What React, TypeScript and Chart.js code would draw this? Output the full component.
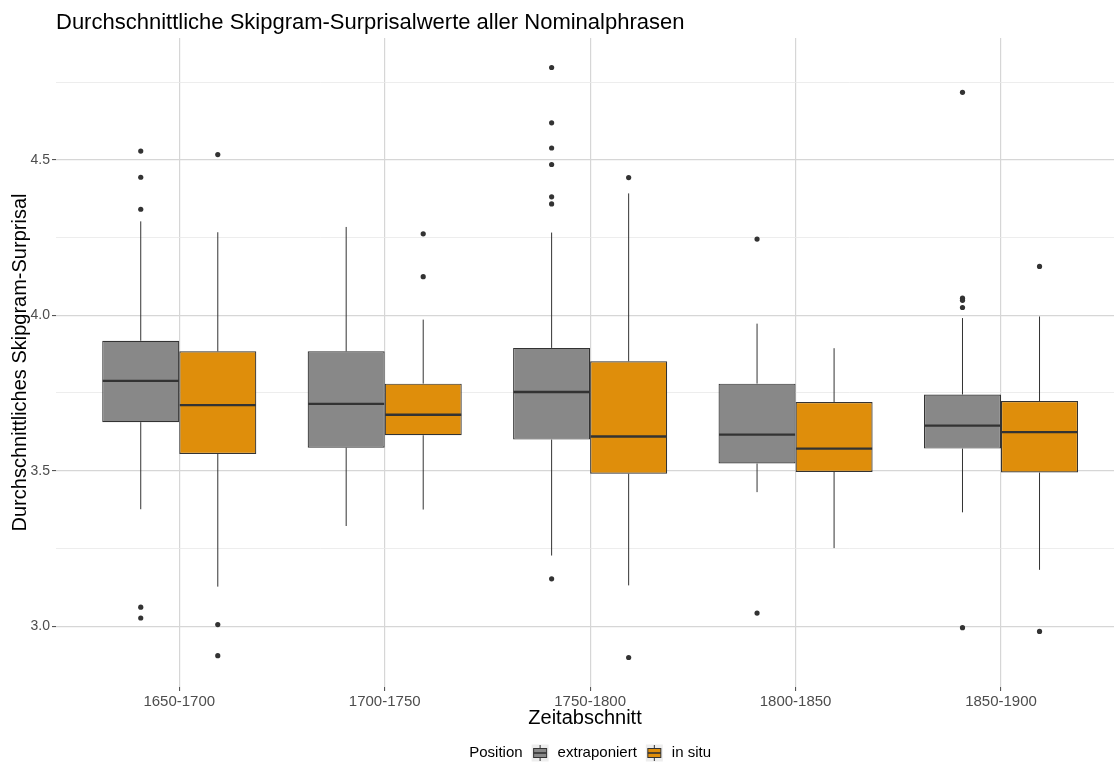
import React, { useEffect, useRef } from 'react';
import { Chart, registerables } from 'chart.js';

Chart.register(...registerables);

const FONT = '"Liberation Sans", Arial, Helvetica, sans-serif';

const titleText = 'Durchschnittliche Skipgram-Surprisalwerte aller Nominalphrasen';
const xTitle = 'Zeitabschnitt';
const yTitle = 'Durchschnittliches Skipgram-Surprisal';
const legendTitle = 'Position';

const categories = ['1650-1700', '1700-1750', '1750-1800', '1800-1850', '1850-1900'];
const seriesNames = ['extraponiert', 'in situ'];
const seriesColors = ['#888888', '#DF8E0B'];

// extraponiert
const extLow = [3.376, 3.322, 3.227, 3.431, 3.366];
const extQ1 = [3.656, 3.574, 3.600, 3.523, 3.571];
const extMedian = [3.789, 3.715, 3.753, 3.616, 3.645];
const extQ3 = [3.918, 3.884, 3.895, 3.780, 3.745];
const extHigh = [4.302, 4.284, 4.266, 3.973, 3.991];
const extOutliers = [
  [4.528, 4.444, 4.341, 3.061, 3.026],
  [],
  [4.797, 4.619, 4.538, 4.485, 4.381, 4.358, 3.152],
  [4.245, 3.042],
  [4.717, 4.055, 4.048, 4.025, 2.995],
];

// in situ
const insLow = [3.127, 3.375, 3.131, 3.251, 3.181];
const insQ1 = [3.554, 3.614, 3.490, 3.496, 3.494];
const insMedian = [3.711, 3.680, 3.610, 3.571, 3.624];
const insQ3 = [3.884, 3.780, 3.852, 3.721, 3.724];
const insHigh = [4.267, 3.986, 4.392, 3.894, 3.996];
const insOutliers = [
  [4.517, 3.005, 2.905],
  [4.262, 4.124],
  [4.443, 2.899],
  [],
  [4.157, 2.983],
];

const yMajorTicks = [3.0, 3.5, 4.0, 4.5];
const yMajorLabels = ['3.0', '3.5', '4.0', '4.5'];
const yMinorTicks = [3.25, 3.75, 4.25, 4.75];

const dodgeWidth = 0.75;

const stats = [
  { low: extLow, q1: extQ1, med: extMedian, q3: extQ3, high: extHigh, out: extOutliers },
  { low: insLow, q1: insQ1, med: insMedian, q3: insQ3, high: insHigh, out: insOutliers },
];

const allVals = stats.flatMap((s) => [...s.low, ...s.high, ...s.out.flat()]);
const dMin = Math.min(...allVals);
const dMax = Math.max(...allVals);
const yMin = dMin - 0.05 * (dMax - dMin);
const yMax = dMax + 0.05 * (dMax - dMin);
const xMin = 0.4;
const xMax = categories.length + 0.55;

const boxPartsPlugin = {
  id: 'boxParts',
  beforeDatasetsDraw(chart: any) {
    const ctx = chart.ctx;
    const y = chart.scales.y;
    ctx.save();
    ctx.strokeStyle = '#333333';
    ctx.lineWidth = 1;
    stats.forEach((s, di) => {
      const meta = chart.getDatasetMeta(di);
      meta.data.forEach((el: any, i: number) => {
        const { x } = el.getProps(['x'], true);
        ctx.beginPath();
        ctx.moveTo(x, y.getPixelForValue(s.q3[i]));
        ctx.lineTo(x, y.getPixelForValue(s.high[i]));
        ctx.moveTo(x, y.getPixelForValue(s.q1[i]));
        ctx.lineTo(x, y.getPixelForValue(s.low[i]));
        ctx.stroke();
      });
    });
    ctx.restore();
  },
  afterDatasetsDraw(chart: any) {
    const ctx = chart.ctx;
    const y = chart.scales.y;
    ctx.save();
    ctx.strokeStyle = '#333333';
    ctx.lineWidth = 2.4;
    stats.forEach((s, di) => {
      const meta = chart.getDatasetMeta(di);
      meta.data.forEach((el: any, i: number) => {
        const { x, width } = el.getProps(['x', 'width'], true);
        const py = y.getPixelForValue(s.med[i]);
        ctx.beginPath();
        ctx.moveTo(x - width / 2 + 0.5, py);
        ctx.lineTo(x + width / 2 - 0.5, py);
        ctx.stroke();
      });
    });
    ctx.restore();
  },
};

const legendPlugin = {
  id: 'ggLegend',
  afterDraw(chart: any) {
    const ctx = chart.ctx;
    ctx.save();
    ctx.font = `15px ${FONT}`;
    ctx.textBaseline = 'middle';
    ctx.fillStyle = '#000000';
    const key = 17;
    const gap = 9;
    const wT = ctx.measureText(legendTitle).width;
    const wL = seriesNames.map((n) => ctx.measureText(n).width);
    const total = wT + gap + seriesNames.length * (key + gap) + wL.reduce((a, b) => a + b, 0) + gap * (seriesNames.length - 1);
    const panelRight = chart.scales.x.getPixelForValue(categories.length + 0.6);
    const cx = (chart.chartArea.left + panelRight) / 2;
    const cy = 753;
    let x = cx - total / 2;
    ctx.textAlign = 'left';
    ctx.fillText(legendTitle, x, cy);
    x += wT + gap;
    seriesNames.forEach((n, i) => {
      const ky = cy - key / 2;
      ctx.fillStyle = '#EDEDED';
      ctx.fillRect(x, ky, key, key);
      ctx.strokeStyle = '#333333';
      ctx.lineWidth = 1;
      ctx.beginPath();
      ctx.moveTo(x + key / 2, ky + 0.5);
      ctx.lineTo(x + key / 2, ky + key - 0.5);
      ctx.stroke();
      ctx.fillStyle = seriesColors[i];
      ctx.fillRect(x + 2, ky + 4, key - 4, 9);
      ctx.strokeRect(x + 2, ky + 4, key - 4, 9);
      ctx.lineWidth = 1.6;
      ctx.beginPath();
      ctx.moveTo(x + 2, cy);
      ctx.lineTo(x + key - 2, cy);
      ctx.stroke();
      x += key + gap;
      ctx.fillStyle = '#000000';
      ctx.fillText(n, x, cy);
      x += wL[i] + gap;
    });
    ctx.restore();
  },
};

export default function App() {
  const canvasRef = useRef<HTMLCanvasElement | null>(null);

  useEffect(() => {
    if (!canvasRef.current) return;
    Chart.defaults.font.family = FONT;

    const barDatasets = stats.map((s, di) => ({
      type: 'bar' as const,
      label: seriesNames[di],
      data: categories.map((_, i) => ({ x: i + 1, y: [s.q1[i], s.q3[i]] })),
      backgroundColor: seriesColors[di],
      borderColor: '#333333',
      borderWidth: 1.2,
      borderSkipped: false,
      categoryPercentage: dodgeWidth,
      barPercentage: 1,
      order: 2,
    }));

    const outlierDatasets = stats.map((s, di) => ({
      type: 'scatter' as const,
      label: seriesNames[di] + ' outliers',
      data: s.out.flatMap((vals, i) =>
        vals.map((v) => ({ x: i + 1 + (di - 0.5) * (dodgeWidth / 2), y: v }))
      ),
      backgroundColor: '#333333',
      borderWidth: 0,
      pointRadius: 2.6,
      order: 1,
    }));

    const chart = new Chart(canvasRef.current, {
      type: 'bar',
      data: { datasets: [...barDatasets, ...outlierDatasets] as any },
      plugins: [boxPartsPlugin, legendPlugin],
      options: {
        animation: false,
        responsive: false,
        devicePixelRatio: 1,
        events: [],
        layout: { autoPadding: false, padding: { left: 0, right: 0, top: 0, bottom: 31.3 } },
        plugins: {
          legend: { display: false },
          tooltip: { enabled: false },
          title: {
            display: true,
            text: titleText,
            align: 'start',
            fullSize: false,
            color: '#000000',
            font: { size: 22, weight: 'normal', family: FONT, lineHeight: 1.2 },
            padding: { top: 9.5, bottom: 2.1 },
          },
        },
        scales: {
          x: {
            type: 'linear',
            min: xMin,
            max: xMax,
            offset: false,
            grid: {
              offset: false,
              color: '#D6D6D6',
              lineWidth: 1.2,
              drawTicks: true,
              tickLength: 4,
              tickColor: '#444444',
              tickWidth: 1,
            },
            border: { display: false },
            afterBuildTicks: (scale: any) => {
              scale.ticks = categories.map((_, i) => ({ value: i + 1 }));
            },
            afterFit: (scale: any) => {
              scale.height = 43.7;
            },
            ticks: {
              autoSkip: false,
              maxRotation: 0,
              padding: 1.5,
              color: '#4D4D4D',
              font: { size: 15, family: FONT },
              callback: (_v: any, index: number) => categories[index],
            },
            title: {
              display: true,
              text: xTitle,
              color: '#000000',
              font: { size: 20, family: FONT, lineHeight: 1.2 },
              padding: { top: 0, bottom: 0 },
            },
          },
          y: {
            type: 'linear',
            min: yMin,
            max: yMax,
            beginAtZero: false,
            grid: {
              color: (c: any) => (yMajorTicks.includes(c.tick?.value) ? '#D6D6D6' : '#E9E9E9'),
              lineWidth: (c: any) => (yMajorTicks.includes(c.tick?.value) ? 1.2 : 0.8),
              drawTicks: true,
              tickLength: 4,
              tickColor: (c: any) => (yMajorTicks.includes(c.tick?.value) ? '#444444' : 'rgba(0,0,0,0)'),
              tickWidth: 1,
            },
            border: { display: false },
            afterBuildTicks: (scale: any) => {
              scale.ticks = [...yMajorTicks, ...yMinorTicks]
                .sort((a, b) => a - b)
                .map((v) => ({ value: v }));
            },
            afterFit: (scale: any) => {
              scale.width = 56;
            },
            ticks: {
              autoSkip: false,
              padding: 2,
              color: '#4D4D4D',
              font: { size: 14, family: FONT },
              callback: (v: any) => {
                const k = yMajorTicks.indexOf(Number(v));
                return k >= 0 ? yMajorLabels[k] : '';
              },
            },
            title: {
              display: true,
              text: yTitle,
              color: '#000000',
              font: { size: 20, family: FONT, lineHeight: 1.2 },
              padding: { top: 8.5, bottom: 0 },
            },
          },
        },
      } as any,
    });

    return () => {
      chart.destroy();
    };
  }, []);

  return (
    <div style={{ position: 'fixed', left: 0, top: 0, width: 1114, height: 762, background: '#ffffff' }}>
      <canvas ref={canvasRef} width={1114} height={762} style={{ width: 1114, height: 762, display: 'block' }} />
    </div>
  );
}
